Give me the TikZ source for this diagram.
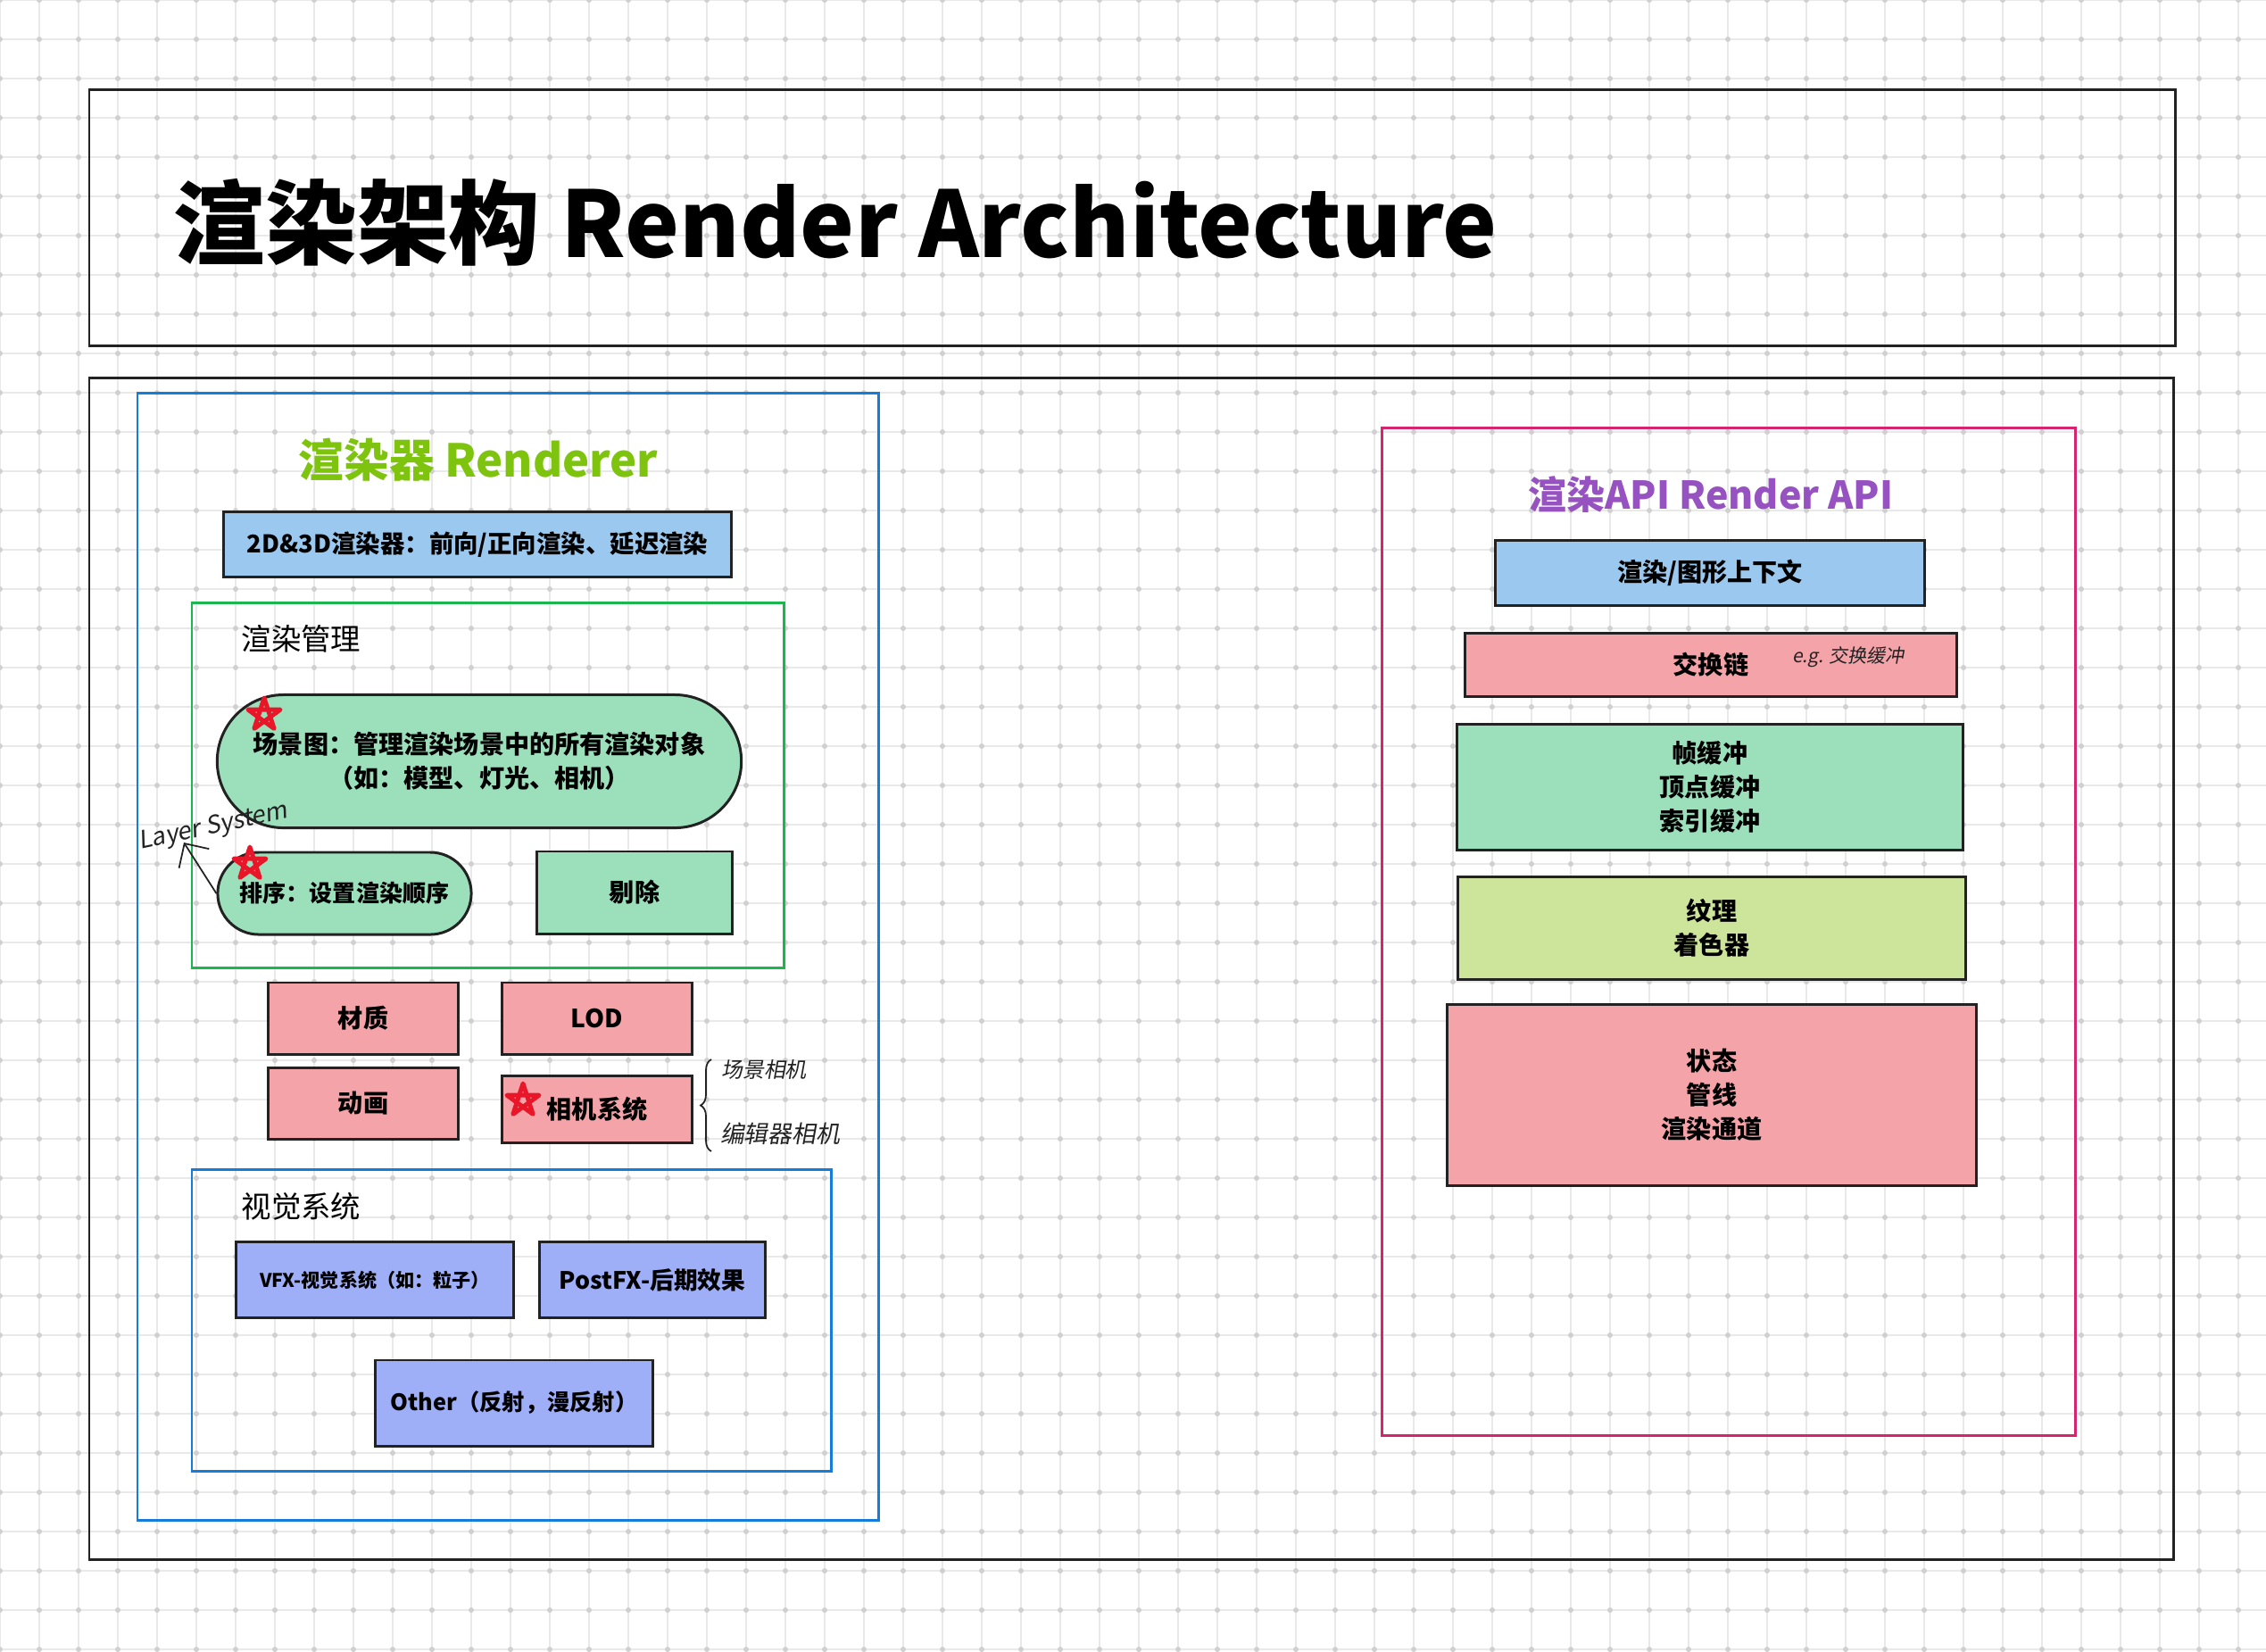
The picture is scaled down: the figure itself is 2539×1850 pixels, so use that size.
\documentclass[tikz,border=0pt]{standalone}
\usepackage{fontspec}
\setmainfont{Noto Sans CJK SC}
\newfontfamily\handfont[FakeSlant=0.18]{Noto Sans CJK SC}
\usepackage{tikz}
\usetikzlibrary{arrows.meta,positioning,shapes.misc,decorations.pathreplacing}

\definecolor{gridgray}{RGB}{233,233,233}
\definecolor{dotgray}{RGB}{208,208,208}
\definecolor{edgeblack}{RGB}{34,34,34}
\definecolor{frameblue}{RGB}{22,124,218}
\definecolor{framegreen}{RGB}{28,182,78}
\definecolor{framerose}{RGB}{214,36,110}
\definecolor{titlegreen}{RGB}{126,196,14}
\definecolor{titlepurple}{RGB}{150,82,192}
\definecolor{fillblue}{RGB}{155,200,238}
\definecolor{fillmint}{RGB}{155,223,187}
\definecolor{fillpink}{RGB}{244,163,168}
\definecolor{fillviolet}{RGB}{158,174,247}
\definecolor{filllime}{RGB}{205,228,155}
\definecolor{starred}{RGB}{232,22,40}

\begin{document}
\begin{tikzpicture}[x=0.01cm,y=-0.01cm,>=Latex]
  \tikzstyle{box}=[draw=edgeblack,line width=0.85pt,inner sep=0pt,align=center,font=\bfseries\fontsize{8}{10.8}\selectfont]
  \tikzstyle{pill}=[box,rounded rectangle]
  \tikzstyle{groupframe}=[line width=0.85pt]
  \tikzstyle{grouplabel}=[anchor=west,inner sep=0pt,font=\fontsize{9.5}{12}\selectfont]
  \tikzstyle{hand}=[inner sep=0pt,text=edgeblack,font=\handfont\fontsize{7}{8}\selectfont]
  \tikzstyle{starpen}=[draw=starred,line width=1.4pt,line join=round]

  % canvas and grid
  \useasboundingbox (0,0) rectangle (2539,1850);
  \fill[white] (0,0) rectangle (2539,1850);
  \foreach \gx in {0,44,...,2508} \draw[gridgray,line width=0.55pt] (\gx,0) -- (\gx,1850);
  \foreach \gy in {0,44,...,1848} \draw[gridgray,line width=0.55pt] (0,\gy) -- (2539,\gy);
  \foreach \gx in {0,44,...,2508}
    \foreach \gy in {0,44,...,1848}
      \fill[dotgray] (\gx,\gy) circle[radius=0.03cm];

  % Title
  \draw[groupframe,edgeblack] (100,100) rectangle (2437,387);
  \node[anchor=base west,inner sep=0pt,font=\bfseries\fontsize{29.2}{35}\selectfont] (title) at (194,288) {渲染架构 Render Architecture};
  \draw[groupframe,edgeblack] (100,423) rectangle (2435,1747);

  % Renderer column
  \draw[groupframe,frameblue] (154,440) rectangle (984,1703);
  \node[font=\bfseries\fontsize{14.4}{17}\selectfont,text=titlegreen] (renderer) at (536,515) {渲染器 Renderer};
  \node[box,fill=fillblue,minimum width=5.68cm,minimum height=0.73cm,font=\bfseries\fontsize{7.8}{10}\selectfont] (dual) at (535,610) {2D\&3D渲染器：前向/正向渲染、延迟渲染};

  % Render management
  \draw[groupframe,framegreen] (215,675) rectangle (878,1084);
  \node[grouplabel] (mgmt) at (270,716) {渲染管理};
  \node[pill,fill=fillmint,minimum width=5.87cm,minimum height=1.49cm] (scene) at (537,853) {场景图：管理渲染场景中的所有渲染对象\\（如：模型、灯光、相机）};
  \node[pill,fill=fillmint,minimum width=2.84cm,minimum height=0.92cm,font=\bfseries\fontsize{7.4}{9}\selectfont] (sort) at (386,1001) {排序：设置渲染顺序};
  \node[box,fill=fillmint,minimum width=2.19cm,minimum height=0.92cm] (cull) at (711,1000) {剔除};

  % Layer note
  \node[hand,rotate=12,font=\handfont\fontsize{7.8}{9}\selectfont] (layersys) at (239,927) {Layer System};
  \coordinate (layertip) at (206,944);
  \draw[->,>={Straight Barb[length=2mm]},edgeblack,line width=0.5pt] (sort.west) -- (layertip);

  % Loose modules
  \node[box,fill=fillpink,minimum width=2.12cm,minimum height=0.80cm] (material) at (407,1141) {材质};
  \node[box,fill=fillpink,minimum width=2.13cm,minimum height=0.80cm] (lod) at (669,1141) {LOD};
  \node[box,fill=fillpink,minimum width=2.12cm,minimum height=0.80cm] (anim) at (407,1236) {动画};
  \node[box,fill=fillpink,minimum width=2.13cm,minimum height=0.75cm] (camera) at (669,1243) {相机系统};

  % Camera note
  \draw[decorate,decoration={brace,amplitude=0.12cm},edgeblack,line width=0.5pt] (797,1290) -- (797,1187);
  \node[hand,font=\handfont\fontsize{6.8}{8}\selectfont] (camscene) at (856,1198) {场景相机};
  \node[hand,font=\handfont\fontsize{7.6}{9}\selectfont] (cameditor) at (874,1270) {编辑器相机};

  % Visual systems
  \draw[groupframe,frameblue] (215,1310) rectangle (931,1648);
  \node[grouplabel] (visual) at (270,1352) {视觉系统};
  \node[box,fill=fillviolet,minimum width=3.10cm,minimum height=0.85cm,font=\bfseries\fontsize{6}{8}\selectfont] (vfx) at (420,1434) {VFX-视觉系统（如：粒子）};
  \node[box,fill=fillviolet,minimum width=2.53cm,minimum height=0.85cm,font=\bfseries\fontsize{7.6}{9}\selectfont] (postfx) at (731,1434) {PostFX-后期效果};
  \node[box,fill=fillviolet,minimum width=3.10cm,minimum height=0.96cm,font=\bfseries\fontsize{7.2}{9}\selectfont] (other) at (576,1572) {Other（反射，漫反射）};

  % Stars
  \coordinate (star1) at (296,801);
  \coordinate (star2) at (280,968);
  \coordinate (star3) at (586,1233);
  \foreach \s in {star1,star2,star3}
    \draw[starpen] ([shift={(90:0.19cm)}]\s) -- ([shift={(234:0.19cm)}]\s) -- ([shift={(18:0.19cm)}]\s) -- ([shift={(162:0.19cm)}]\s) -- ([shift={(306:0.19cm)}]\s) -- cycle;

  % Render API column
  \draw[groupframe,framerose] (1548,479) rectangle (2325,1608);
  \node[font=\bfseries\fontsize{12.2}{15}\selectfont,text=titlepurple] (apititle) at (1917,554) {渲染API Render API};
  \node[box,fill=fillblue,minimum width=4.80cm,minimum height=0.73cm] (context) at (1916,642) {渲染/图形上下文};
  \node[box,fill=fillpink,minimum width=5.50cm,minimum height=0.71cm] (swap) at (1917,745) {交换链};
  \node[hand,font=\handfont\fontsize{6}{7}\selectfont] (eg) at (2071,736) {e.g. 交换缓冲};
  \node[box,fill=fillmint,minimum width=5.67cm,minimum height=1.41cm] (buffers) at (1916,882) {帧缓冲\\顶点缓冲\\索引缓冲};
  \node[box,fill=filllime,minimum width=5.69cm,minimum height=1.14cm] (shaders) at (1918,1040) {纹理\\着色器};
  \node[box,fill=fillpink,minimum width=5.92cm,minimum height=2.02cm] (state) at (1918,1227) {状态\\管线\\渲染通道};

\end{tikzpicture}
\end{document}
